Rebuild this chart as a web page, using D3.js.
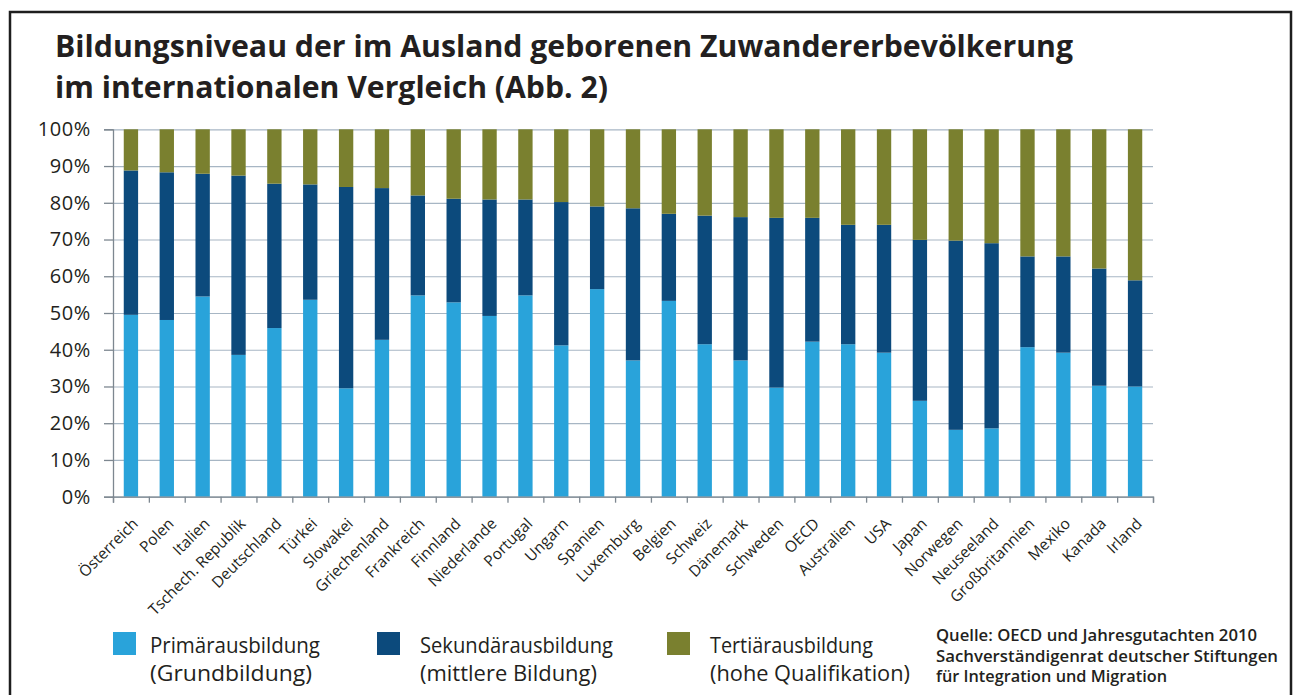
<!DOCTYPE html>
<html>
<head>
<meta charset="utf-8">
<script src="https://cdn.jsdelivr.net/npm/d3@7"></script>
<style>
	body { margin: 0; background: #fff; }
	svg { display: block; }
</style>
</head>
<body>
<div id="chart"></div>
<script>
// values (percent of foreign-born population)
const countries = [
	"Österreich", "Polen", "Italien", "Tschech. Republik", "Deutschland", "Türkei",
	"Slowakei", "Griechenland", "Frankreich", "Finnland", "Niederlande", "Portugal",
	"Ungarn", "Spanien", "Luxemburg", "Belgien", "Schweiz", "Dänemark", "Schweden",
	"OECD", "Australien", "USA", "Japan", "Norwegen", "Neuseeland", "Großbritannien",
	"Mexiko", "Kanada", "Irland",
];
const primaer = [
	49.5, 48.1, 54.5, 38.6, 45.9, 53.6, 29.5, 42.7, 54.8, 52.9, 49.2, 54.8, 41.2, 56.5, 37.1,
	53.3, 41.5, 37.1, 29.7, 42.2, 41.5, 39.2, 26.1, 18.2, 18.6, 40.7, 39.2, 30.2, 30.0,
];
const sekundaer = [
	39.3, 40.2, 33.4, 48.8, 39.3, 31.4, 54.8, 41.3, 27.2, 28.2, 31.7, 26.1, 39.0, 22.5, 41.4,
	23.7, 35.0, 39.0, 46.2, 33.7, 32.5, 34.8, 43.8, 51.5, 50.4, 24.7, 26.2, 31.9, 28.9,
];
const tertiaer = [
	11.2, 11.7, 12.1, 12.6, 14.8, 15.0, 15.7, 16.0, 18.0, 18.9, 19.1, 19.1, 19.8, 21.0, 21.5,
	23.0, 23.5, 23.9, 24.1, 24.1, 26.0, 26.0, 30.1, 30.3, 31.0, 34.6, 34.6, 37.9, 41.1,
];
const yTicks = [0, 10, 20, 30, 40, 50, 60, 70, 80, 90, 100];
const seriesKeys = ["primaer", "sekundaer", "tertiaer"];
const legendLines = [
	["Primärausbildung", "(Grundbildung)"],
	["Sekundärausbildung", "(mittlere Bildung)"],
	["Tertiärausbildung", "(hohe Qualifikation)"],
];
const titleLines = [
	"Bildungsniveau der im Ausland geborenen Zuwandererbevölkerung",
	"im internationalen Vergleich (Abb. 2)",
];
const sourceLines = [
	"Quelle: OECD und Jahresgutachten 2010",
	"Sachverständigenrat deutscher Stiftungen",
	"für Integration und Migration",
];

const colors = { primaer: "#29a3da", sekundaer: "#0c4a7c", tertiaer: "#7a802f" };
const textColor = "#231f20";
const font = "'Open Sans', 'Noto Sans', sans-serif";

const width = 1297;
const height = 695;
const margin = { top: 129.3, left: 113 };
const innerWidth = 1040;
const innerHeight = 367.4;

const table = countries.map((c, i) => ({
	country: c,
	primaer: primaer[i],
	sekundaer: sekundaer[i],
	tertiaer: tertiaer[i],
}));

const container = d3.select("#chart");
container.selectAll("*").remove();

const svg = container.append("svg").attr("width", width).attr("height", height);

// frame (bottom edge is outside the picture)
svg.append("path")
	.attr("d", `M10,${height} V12 H1291 V${height}`)
	.attr("fill", "none")
	.attr("stroke", "#1e1e1e")
	.attr("stroke-width", 2.5);

// title
const titleLen = [1018, 553];
const titleY = [57, 98];
titleLines.forEach((t, i) => {
	svg.append("text")
		.attr("x", 55)
		.attr("y", titleY[i])
		.attr("textLength", titleLen[i])
		.attr("lengthAdjust", "spacingAndGlyphs")
		.style("font-family", font)
		.style("font-weight", "700")
		.style("font-size", "30px")
		.style("fill", textColor)
		.text(t);
});

const g = svg.append("g").attr("transform", `translate(${margin.left},${margin.top})`);

const x = d3.scaleBand().domain(countries).range([0, innerWidth]).paddingInner(0.6).paddingOuter(0.3);
const y = d3.scaleLinear().domain([0, 100]).range([innerHeight, 0]);

// grid
g.append("g")
	.call(d3.axisLeft(y).tickValues(yTicks).tickSize(-innerWidth).tickFormat(""))
	.call(a => a.select(".domain").remove())
	.call(a => a.selectAll("line").attr("stroke", "#a7b6c4").attr("stroke-width", 1.2));

// stacked bars
const stack = d3.stack().keys(seriesKeys);
const layers = stack(table);

g.append("g")
	.selectAll("g")
	.data(layers)
	.join("g")
	.attr("fill", d => colors[d.key])
	.selectAll("rect")
	.data(d => d)
	.join("rect")
	.attr("x", d => x(d.data.country))
	.attr("width", x.bandwidth())
	.attr("y", d => y(d[1]))
	.attr("height", d => y(d[0]) - y(d[1]));

// y axis
g.append("g")
	.call(d3.axisLeft(y).tickValues(yTicks).tickSize(9).tickPadding(13).tickFormat(d => d + "%"))
	.call(a => a.selectAll("line, path").attr("stroke", "#7d8790").attr("stroke-width", 1.3))
	.call(a =>
		a.selectAll("text")
			.style("font-family", font)
			.style("font-size", "20px")
			.style("font-weight", "500")
			.style("letter-spacing", "0.6px")
			.style("fill", textColor)
	);

// x axis: ticks between the bars
const xEdges = d3.scaleLinear().domain([0, countries.length]).range([0, innerWidth]);
g.append("g")
	.attr("transform", `translate(0,${innerHeight})`)
	.call(d3.axisBottom(xEdges).tickValues(d3.range(countries.length + 1)).tickSize(6).tickFormat(""))
	.call(a => a.selectAll("line, path").attr("stroke", "#7d8790").attr("stroke-width", 1.3));

// x labels
g.append("g")
	.attr("transform", `translate(0,${innerHeight})`)
	.call(d3.axisBottom(x).tickSize(0))
	.call(a => a.select(".domain").remove())
	.call(a =>
		a.selectAll("text")
			.attr("x", 0)
			.attr("y", 0)
			.attr("dy", 0)
			.attr("transform", "translate(8,28) rotate(-45)")
			.style("text-anchor", "end")
			.style("font-family", font)
			.style("font-size", "15.5px")
			.style("font-weight", "500")
			.style("fill", textColor)
	);

// legend
const legendX = [113, 377, 667];
const textX = [150, 420, 710];
const legendLen = [
	[170, 162],
	[193, 177],
	[163, 200],
];
seriesKeys.forEach((k, i) => {
	svg.append("rect")
		.attr("x", legendX[i])
		.attr("y", 632)
		.attr("width", 23)
		.attr("height", 23)
		.attr("fill", colors[k]);
	legendLines[i].forEach((t, j) => {
		svg.append("text")
			.attr("x", textX[i])
			.attr("y", 653 + j * 28)
			.attr("textLength", legendLen[i][j])
			.attr("lengthAdjust", "spacingAndGlyphs")
			.style("font-family", font)
			.style("font-size", "22px")
			.style("fill", textColor)
			.text(t);
	});
});

// source
const sourceLen = [321, 342, 231];
sourceLines.forEach((t, i) => {
	svg.append("text")
		.attr("x", 936)
		.attr("y", 641 + i * 20.5)
		.attr("textLength", sourceLen[i])
		.attr("lengthAdjust", "spacingAndGlyphs")
		.style("font-family", font)
		.style("font-size", "16.5px")
		.style("font-weight", "600")
		.style("fill", textColor)
		.text(t);
});
</script>
</body>
</html>
